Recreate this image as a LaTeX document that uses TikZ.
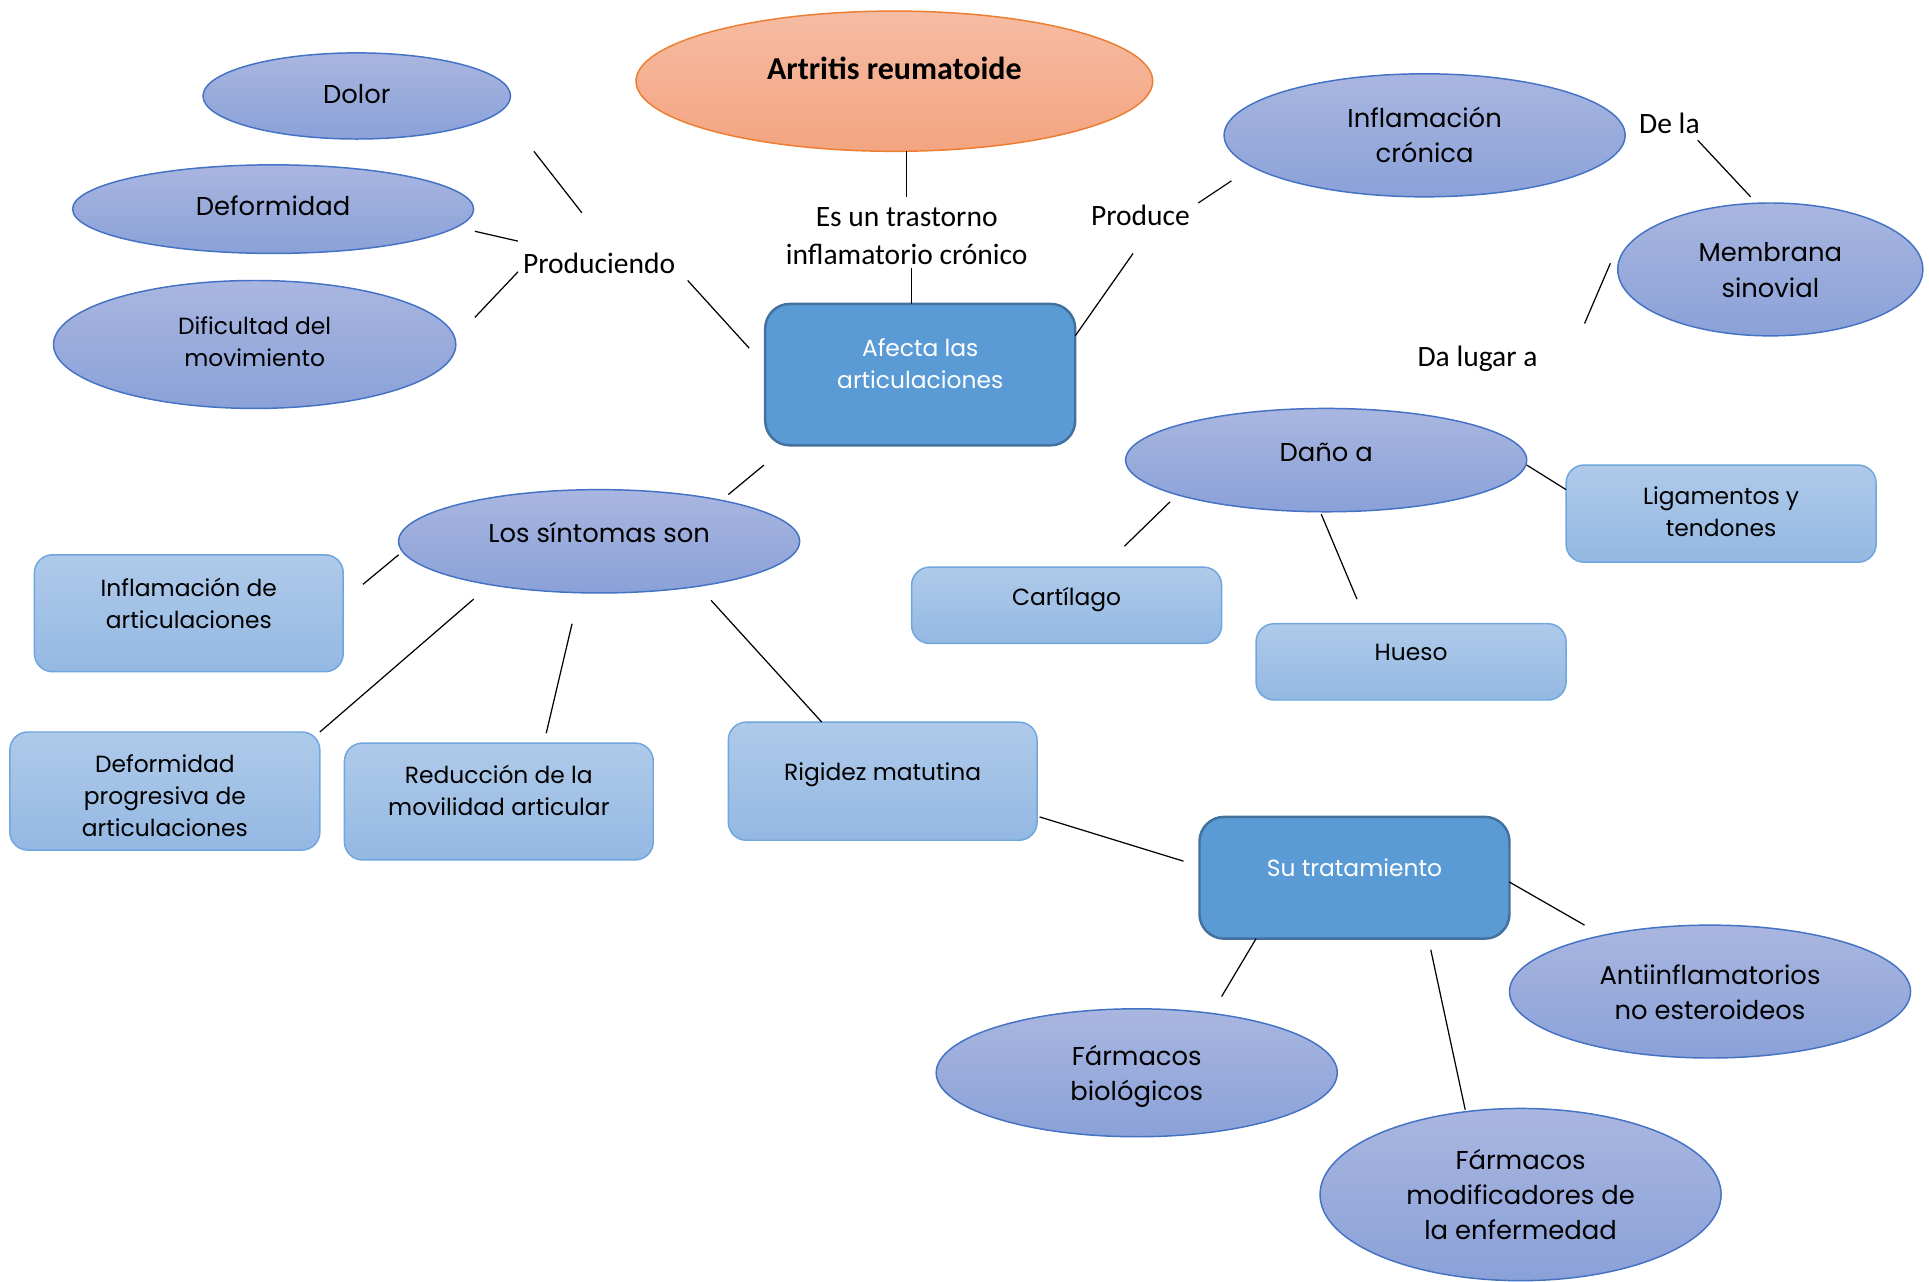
\documentclass[tikz,border=0pt]{standalone}
\usepackage{fontspec}
\setmainfont{Poppins}
\newfontfamily\calib{Carlito}
\usetikzlibrary{shapes.geometric}
\definecolor{ellB}{HTML}{4472C4}
\definecolor{ellT}{HTML}{A9B6E0}
\definecolor{ellBo}{HTML}{8AA1D8}
\definecolor{orB}{HTML}{ED7D31}
\definecolor{orT}{HTML}{F6BCA3}
\definecolor{orBo}{HTML}{F4A480}
\definecolor{dboxF}{HTML}{5B9BD5}
\definecolor{dboxB}{HTML}{41719C}
\definecolor{lboxT}{HTML}{AFCAE9}
\definecolor{lboxBo}{HTML}{94B8E3}
\definecolor{lboxB}{HTML}{6FA6DE}
\newcommand\tx[2]{\raisebox{\dimexpr#1-0.25em-1.5pt\relax}[0pt][0pt]{\begin{tabular}{@{}c@{}}#2\end{tabular}}}
\tikzset{
 ell/.style={ellipse, draw=ellB, line width=0.9pt, top color=ellT, bottom color=ellBo, inner sep=0pt, font=\fontsize{15.75}{21.4}\selectfont},
 lbox/.style={rectangle, rounded corners=11pt, draw=lboxB, line width=0.9pt, top color=lboxT, bottom color=lboxBo, inner sep=0pt, font=\fontsize{14.25}{19.5}\selectfont},
 dbox/.style={rectangle, rounded corners=15pt, draw=dboxB, line width=1.5pt, fill=dboxF, text=white, inner sep=0pt, font=\fontsize{14.25}{19.5}\selectfont},
 lab/.style={font=\calib\fontsize{18}{23.25}\selectfont, align=center, inner sep=1pt},
 conn/.style={draw=black, line width=0.75pt}
}
\begin{document}
\begin{tikzpicture}[x=0.75pt,y=-0.75pt]
\useasboundingbox (0,0) rectangle (1568,1042);
% ellipses
\node[ell, minimum width=315pt, minimum height=85.5pt, draw=orB, top color=orT, bottom color=orBo, font=\calib\bfseries\fontsize{19.5}{24}\selectfont] (title) at (727,66) {\tx{6.75pt}{Artritis reumatoide}};
\node[ell, minimum width=187.5pt, minimum height=52.5pt] (dolor) at (290,78) {\tx{1.5pt}{Dolor}};
\node[ell, minimum width=244.5pt, minimum height=54pt] (deform) at (222,170) {\tx{2.25pt}{Deformidad}};
\node[ell, minimum width=245.25pt, minimum height=78pt, font=\fontsize{14.25}{19.5}\selectfont] (dific) at (207,280) {\tx{1.5pt}{Dificultad del\\movimiento}};
\node[ell, minimum width=244.5pt, minimum height=75pt] (inflcr) at (1158,110) {\tx{0pt}{Inflamación\\crónica}};
\node[ell, minimum width=186pt, minimum height=81pt] (membr) at (1439,219) {\tx{0pt}{Membrana\\sinovial}};
\node[ell, minimum width=244.5pt, minimum height=63pt] (dano) at (1078,374) {\tx{5.25pt}{Daño a}};
\node[ell, minimum width=244.5pt, minimum height=63pt] (sintomas) at (487,440) {\tx{5.25pt}{Los síntomas son}};
\node[ell, minimum width=244.5pt, minimum height=81pt] (antiinf) at (1390,806) {\tx{0pt}{Antiinflamatorios\\no esteroideos}};
\node[ell, minimum width=244.5pt, minimum height=78pt] (fbio) at (924,872) {\tx{0pt}{Fármacos\\biológicos}};
\node[ell, minimum width=244.5pt, minimum height=105pt] (fmod) at (1236,971) {\tx{0pt}{Fármacos\\modificadores de\\la enfermedad}};
% dark boxes
\node[dbox, minimum width=189pt, minimum height=86.25pt] (afecta) at (748,304.5) {\tx{6.4pt}{Afecta las\\articulaciones}};
\node[dbox, minimum width=189pt, minimum height=74.25pt] (trat) at (1101,713.5) {\tx{6.4pt}{Su tratamiento}};
% light boxes
\node[lbox, minimum width=188.25pt, minimum height=72pt] (rigidez) at (717.5,635) {\tx{6pt}{Rigidez matutina}};
\node[lbox, minimum width=188.25pt, minimum height=71.25pt] (inflart) at (153.5,498.5) {\tx{5.6pt}{Inflamación de\\articulaciones}};
\node[lbox, minimum width=189pt, minimum height=72pt] (defprog) at (134,643) {\tx{-3pt}{Deformidad\\progresiva de\\articulaciones}};
\node[lbox, minimum width=188.25pt, minimum height=71.25pt] (reduc) at (405.5,651.5) {\tx{6.4pt}{Reducción de la\\movilidad articular}};
\node[lbox, minimum width=189pt, minimum height=59.25pt] (ligam) at (1399,417.5) {\tx{1.1pt}{Ligamentos y\\tendones}};
\node[lbox, minimum width=189pt, minimum height=46.5pt] (cartil) at (867,492) {\tx{5.25pt}{Cartílago}};
\node[lbox, minimum width=189pt, minimum height=46.5pt] (hueso) at (1147,538) {\tx{6pt}{Hueso}};
% labels
\node[lab] (trast) at (737,192) {Es un trastorno\\inflamatorio crónico};
\node[lab] (prodc) at (487,214) {Produciendo};
\node[lab] (produce) at (927,175) {Produce};
\node[lab] (dela) at (1357,100) {De la};
\node[lab] (dalugar) at (1201,292) {Da lugar a};
% connector end points
\coordinate (a1) at (737,123); \coordinate (b1) at (737,160);
\coordinate (a2) at (741,218); \coordinate (b2) at (741,247);
\coordinate (a3) at (434,123); \coordinate (b3) at (473,173);
\coordinate (a4) at (386,188); \coordinate (b4) at (421,196);
\coordinate (a5) at (386,258); \coordinate (b5) at (421,221);
\coordinate (a6) at (559,228); \coordinate (b6) at (609,283);
\coordinate (a7) at (874,273); \coordinate (b7) at (921,206);
\coordinate (a8) at (974,165); \coordinate (b8) at (1001,147);
\coordinate (a9) at (1380,114); \coordinate (b9) at (1423,160);
\coordinate (a10) at (1309,214); \coordinate (b10) at (1288,263);
\coordinate (a11) at (1241,378); \coordinate (b11) at (1273,398);
\coordinate (a12) at (951,408); \coordinate (b12) at (914,444);
\coordinate (a13) at (1074,418); \coordinate (b13) at (1103,487);
\coordinate (a14) at (621,378); \coordinate (b14) at (592,402);
\coordinate (a15) at (324,451); \coordinate (b15) at (295,475);
\coordinate (a16) at (385,487); \coordinate (b16) at (260,595);
\coordinate (a17) at (465,507); \coordinate (b17) at (444,596);
\coordinate (a18) at (578,488); \coordinate (b18) at (668,587);
\coordinate (a19) at (845,664); \coordinate (b19) at (962,700);
\coordinate (a20) at (1227,717); \coordinate (b20) at (1288,752);
\coordinate (a21) at (1021,763); \coordinate (b21) at (993,810);
\coordinate (a22) at (1163,772); \coordinate (b22) at (1191,902);
\foreach \i in {1,...,22} {\draw[conn] (a\i) -- (b\i);}
\end{tikzpicture}
\end{document}
